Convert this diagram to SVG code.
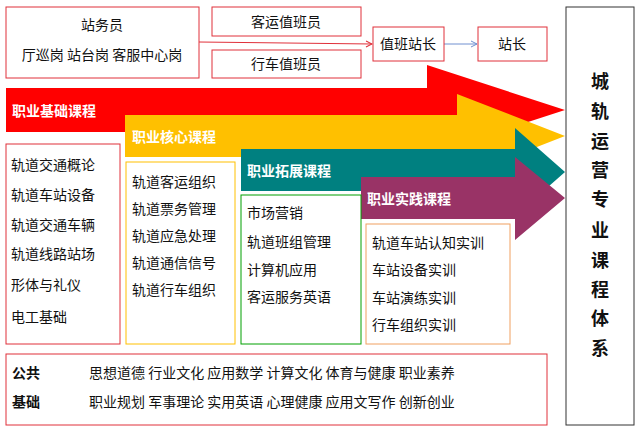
<svg xmlns="http://www.w3.org/2000/svg" width="640" height="434" viewBox="0 0 640 434">
<style>
text{font-family:"Noto Sans CJK SC","Liberation Sans",sans-serif;font-size:14px;fill:#111}
.b{fill:#fff;stroke:#e0303a;stroke-width:1}
.lbl{fill:#fff;font-weight:bold;font-size:14px}
.v{font-weight:bold;font-size:18px;text-anchor:middle}
.c{text-anchor:middle}
</style>
<defs>
<marker id="ar" markerWidth="8" markerHeight="8" refX="7" refY="4" orient="auto" markerUnits="userSpaceOnUse"><path d="M1,1 L7,4 L1,7" fill="none" stroke="#e0303a"/></marker>
<marker id="ab" markerWidth="8" markerHeight="8" refX="7" refY="4" orient="auto" markerUnits="userSpaceOnUse"><path d="M1,1 L7,4 L1,7" fill="none" stroke="#7090d0"/></marker>
</defs>
<rect width="640" height="434" fill="#fff"/>
<g id="arrows">
<polygon points="6,88 427,88 427,65 565,110 427,155 427,132 6,132" fill="#ff0000"/>
<polygon points="125,115 457,115 457,94 565,136 457,178 457,157 125,157" fill="#ffc000"/>
<polygon points="241,149 515,149 515,128 565,172 515,216 515,191 241,191" fill="#008080"/>
<polygon points="361,177 515,177 515,157 565,198 515,240 515,219 361,219" fill="#993366"/>
<text class="lbl" x="12" y="116">职业基础课程</text>
<text class="lbl" x="132" y="142">职业核心课程</text>
<text class="lbl" x="247" y="176">职业拓展课程</text>
<text class="lbl" x="367" y="204">职业实践课程</text>
</g>
<g id="connectors">
<line x1="199" y1="42" x2="372" y2="44" stroke="#e0303a" marker-end="url(#ar)"/>
<line x1="444" y1="44" x2="477" y2="44" stroke="#7090d0" marker-end="url(#ab)"/>
</g>
<g id="zwy"><rect class="b" x="6" y="7" width="193" height="71"/><text class="c" x="102" y="30">站务员</text><text class="c" x="102" y="60">厅巡岗 站台岗 客服中心岗</text></g>
<g id="ky"><rect class="b" x="212" y="7" width="149" height="29"/><text class="c" x="286" y="27">客运值班员</text></g>
<g id="xc"><rect class="b" x="212" y="50" width="149" height="28"/><text class="c" x="286" y="69">行车值班员</text></g>
<g id="zbzz"><rect class="b" x="373" y="27" width="71" height="34"/><text class="c" x="408" y="49">值班站长</text></g>
<g id="zz"><rect class="b" x="478" y="27" width="69" height="34"/><text class="c" x="512" y="49">站长</text></g>
<g id="right"><rect x="566" y="7" width="68" height="418" fill="#fff" stroke="#333"/>
<text class="v" x="600" y="88">城</text><text class="v" x="600" y="118">轨</text><text class="v" x="600" y="148">运</text><text class="v" x="600" y="177">营</text><text class="v" x="600" y="206">专</text><text class="v" x="600" y="237">业</text><text class="v" x="600" y="267">课</text><text class="v" x="600" y="296">程</text><text class="v" x="600" y="325">体</text><text class="v" x="600" y="355">系</text></g>
<g id="jc"><rect x="6" y="144" width="114" height="200" fill="#fff" stroke="#e0303a"/>
<text x="11" y="170">轨道交通概论</text><text x="11" y="200">轨道车站设备</text><text x="11" y="230">轨道交通车辆</text><text x="11" y="259">轨道线路站场</text><text x="11" y="290">形体与礼仪</text><text x="11" y="322">电工基础</text></g>
<g id="hx"><rect x="126" y="162" width="109" height="182" fill="#fff" stroke="#ffc000"/>
<text x="132" y="187">轨道客运组织</text><text x="132" y="214">轨道票务管理</text><text x="132" y="241">轨道应急处理</text><text x="132" y="268">轨道通信信号</text><text x="132" y="295">轨道行车组织</text></g>
<g id="tz"><rect x="241" y="195" width="120" height="149" fill="#fff" stroke="#00a000"/>
<text x="247" y="218">市场营销</text><text x="247" y="247">轨道班组管理</text><text x="247" y="275">计算机应用</text><text x="247" y="302">客运服务英语</text></g>
<g id="sj"><rect x="366" y="224" width="144" height="120" fill="#fff" stroke="#f0a060"/>
<text x="372" y="248">轨道车站认知实训</text><text x="372" y="275">车站设备实训</text><text x="372" y="303">车站演练实训</text><text x="372" y="330">行车组织实训</text></g>
<g id="gg"><rect class="b" x="6" y="354" width="541" height="71"/>
<text x="12" y="378" font-weight="bold">公共</text><text x="12" y="407" font-weight="bold">基础</text>
<text x="89" y="378">思想道德 行业文化 应用数学 计算文化 体育与健康 职业素养</text>
<text x="89" y="407">职业规划 军事理论 实用英语 心理健康 应用文写作 创新创业</text></g>
</svg>
